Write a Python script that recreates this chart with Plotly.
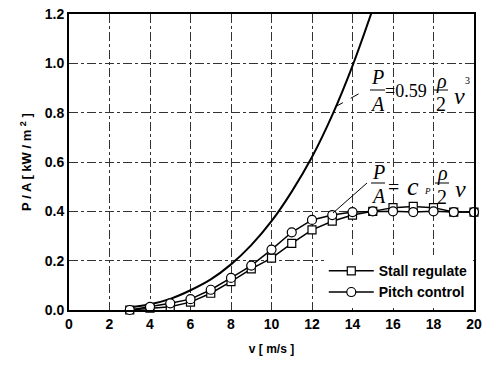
import plotly.graph_objects as go

# ---- data ----
v_betz = [3, 4, 5, 6, 7, 8, 9, 10, 11, 12, 13, 14, 15]
p_betz = [0.01, 0.023, 0.045, 0.08, 0.124, 0.185, 0.263, 0.36, 0.48, 0.62, 0.79, 0.99, 1.22]

v_stall = [3, 4, 5, 6, 7, 8, 9, 10, 11, 12, 13, 14, 15, 16, 17, 18, 19, 20]
p_stall = [0.0, 0.007, 0.013, 0.032, 0.068, 0.115, 0.167, 0.21, 0.27, 0.325, 0.36, 0.385, 0.40, 0.415, 0.42, 0.415, 0.397, 0.397]

v_pitch = [3, 4, 5, 6, 7, 8, 9, 10, 11, 12, 13, 14, 15, 16, 17, 18, 19, 20]
p_pitch = [0.0, 0.013, 0.027, 0.044, 0.082, 0.13, 0.18, 0.245, 0.315, 0.365, 0.385, 0.397, 0.40, 0.40, 0.397, 0.40, 0.397, 0.397]

x_ticks = [0, 2, 4, 6, 8, 10, 12, 14, 16, 18, 20]
y_ticks = [0.0, 0.2, 0.4, 0.6, 0.8, 1.0, 1.2]

SANS = "Arial, Liberation Sans, sans-serif"
SERIF = "Liberation Serif, Times New Roman, serif"

fig = go.Figure()
fig.add_trace(go.Scatter(x=v_betz, y=p_betz, mode="lines", line=dict(color="black", width=2, shape="spline"),
                         showlegend=False, cliponaxis=True))
fig.add_trace(go.Scatter(x=v_stall, y=p_stall, mode="lines+markers", name="Stall regulate",
                         line=dict(color="black", width=1.5),
                         marker=dict(symbol="square", size=8, color="white", line=dict(color="black", width=1.2)),
                         cliponaxis=False))
fig.add_trace(go.Scatter(x=v_pitch, y=p_pitch, mode="lines+markers", name="Pitch control",
                         line=dict(color="black", width=1.5),
                         marker=dict(symbol="circle", size=9, color="white", line=dict(color="black", width=1.2)),
                         cliponaxis=False))

L, R, T, B = 69, 474, 14, 310

def dx(px):
    return (px - L) / (R - L) * 20

def dy(py):
    return (B - py) / (B - T) * 1.2

ann = []
def txt(s, px, py, size=20, anchor="center"):
    ann.append(dict(text=s, x=dx(px), y=dy(py), xref="x", yref="y", showarrow=False,
                    xanchor=anchor, yanchor="middle", font=dict(family=SERIF, size=size, color="black")))

shapes = []
def bar(px0, px1, py):
    shapes.append(dict(type="line", xref="x", yref="y", x0=dx(px0), x1=dx(px1), y0=dy(py), y1=dy(py),
                       line=dict(color="black", width=1)))

# formula 1
txt("<i>P</i>", 377, 77)
bar(370, 385, 90)
txt("<i>A</i>", 377, 104)
txt("=0.59", 383, 91, size=18, anchor="left")
txt("<i>ρ</i>", 441, 81)
bar(434, 448, 90)
txt("2", 441, 104)
txt("<i>v</i>", 459, 96, size=24)
txt("3", 467, 80, size=10)
shapes.append(dict(type="line", xref="x", yref="y", x0=dx(335), y0=dy(107), x1=dx(362), y1=dy(92),
                   line=dict(color="black", width=1, dash="dash")))

# formula 2
txt("<i>P</i>", 378, 172)
bar(371, 385, 183)
txt("<i>A</i>", 378, 196)
txt("=", 393, 187)
txt("<i>c</i>", 413, 186, size=26)
txt("<i>P</i>", 427, 191, size=9)
txt("<i>ρ</i>", 442, 173)
bar(435, 449, 183)
txt("2", 442, 197)
txt("<i>v</i>", 460, 189, size=24)
txt("3", 475, 168, size=10)
shapes.append(dict(type="line", xref="x", yref="y", x0=dx(333), y0=dy(213), x1=dx(367), y1=dy(183),
                   line=dict(color="black", width=1)))

fig.update_layout(
    width=487, height=370,
    margin=dict(l=L, r=487 - R, t=T, b=370 - B),
    paper_bgcolor="white", plot_bgcolor="white",
    font=dict(family=SANS, color="black"),
    annotations=ann, shapes=shapes,
    legend=dict(x=0.997, y=0.006, xanchor="right", yanchor="bottom", bgcolor="white",
                font=dict(family=SANS, size=14, color="black", weight="bold"),
                itemwidth=45, tracegroupgap=0),
    xaxis=dict(range=[0, 20], tickvals=x_ticks, ticks="", showline=True, linecolor="black", linewidth=2,
               mirror=True, showgrid=True, gridcolor="#333", gridwidth=1, griddash="dashdot", zeroline=False,
               automargin=False,
               tickfont=dict(family=SANS, size=14, weight="bold"),
               title=dict(text="v [ m/s ]", font=dict(family=SANS, size=12, weight="bold"), standoff=14)),
    yaxis=dict(range=[0, 1.2], tickvals=y_ticks, tickformat=".1f", ticks="", showline=True, linecolor="black",
               linewidth=2, mirror=True, showgrid=True, gridcolor="#333", gridwidth=1, griddash="dashdot",
               zeroline=False, automargin=False, tickfont=dict(family=SANS, size=14, weight="bold"),
               title=dict(text="P / A [ kW / m <sup>2</sup> ]", font=dict(family=SANS, size=13, weight="bold"),
                          standoff=10)),
)

fig.write_html("out.html", config={"displayModeBar": False},
               post_script="document.body.style.margin='0';document.body.style.overflow='hidden';")
